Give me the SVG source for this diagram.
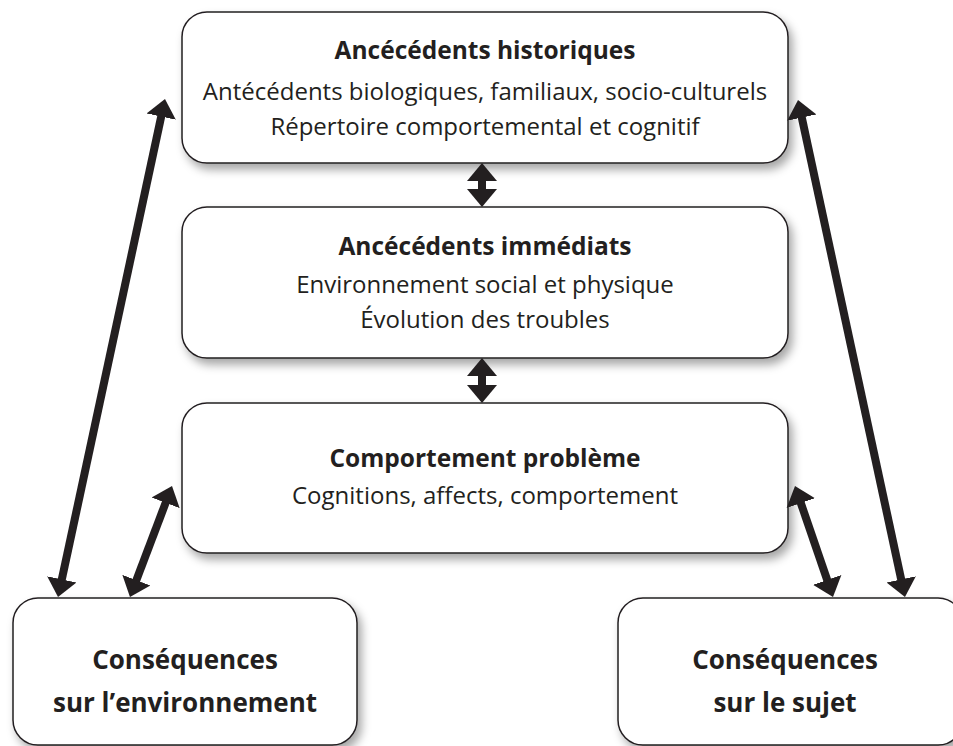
<svg xmlns="http://www.w3.org/2000/svg" width="953" height="746" viewBox="0 0 953 746">
<defs>
<filter id="sh" x="-10%" y="-10%" width="130%" height="130%">
<feDropShadow dx="4" dy="6" stdDeviation="5" flood-color="#000" flood-opacity="0.35"/>
</filter>
<marker id="ah" viewBox="0 -16 19 32" refX="1" refY="0" markerWidth="19" markerHeight="32" markerUnits="userSpaceOnUse" orient="auto-start-reverse">
<path d="M0,-15 L18,0 L0,15 Z" fill="#231f20"/>
</marker>
<style>
.box{fill:#fff;stroke:#231f20;stroke-width:1.5;filter:url(#sh)}
.t{font-family:"Open Sans","Noto Sans",sans-serif;font-size:24px;fill:#231f20;text-anchor:middle}
.b{font-weight:bold;font-size:24.5px}
.l{font-weight:bold;font-size:26px}
.c{stroke:#231f20;stroke-width:8;fill:none;marker-start:url(#ah);marker-end:url(#ah)}
</style>
</defs>
<g id="hist">
<rect class="box" x="182" y="12" width="606" height="151" rx="25"/>
<text class="t b" x="485" y="59">Ancécédents historiques</text>
<text class="t" x="485" y="100">Antécédents biologiques, familiaux, socio-culturels</text>
<text class="t" x="485" y="135">Répertoire comportemental et cognitif</text>
</g>
<g id="imm">
<rect class="box" x="182" y="207" width="606" height="151" rx="25"/>
<text class="t b" x="485" y="255">Ancécédents immédiats</text>
<text class="t" x="485" y="293">Environnement social et physique</text>
<text class="t" x="485" y="328">Évolution des troubles</text>
</g>
<g id="comp">
<rect class="box" x="182" y="403" width="606" height="150" rx="25"/>
<text class="t b" x="485" y="467">Comportement problème</text>
<text class="t" x="485" y="504">Cognitions, affects, comportement</text>
</g>
<g id="env">
<rect class="box" x="13" y="598" width="344" height="147" rx="25"/>
<text class="t l" x="185" y="669">Conséquences</text>
<text class="t l" x="185" y="712">sur l’environnement</text>
</g>
<g id="sujet">
<rect class="box" x="618" y="598" width="345" height="147" rx="25"/>
<text class="t l" x="785" y="669">Conséquences</text>
<text class="t l" x="785" y="712">sur le sujet</text>
</g>
<g id="connectors">
<line class="c" x1="482" y1="180" x2="482" y2="190"/>
<line class="c" x1="482" y1="375" x2="482" y2="386"/>
<line class="c" x1="161.4" y1="115.6" x2="61.6" y2="580.4"/>
<line class="c" x1="166" y1="501.9" x2="136" y2="581.1"/>
<line class="c" x1="801.6" y1="116.6" x2="901.4" y2="580.4"/>
<line class="c" x1="800.5" y1="502.1" x2="827.5" y2="580.9"/>
</g>
</svg>
